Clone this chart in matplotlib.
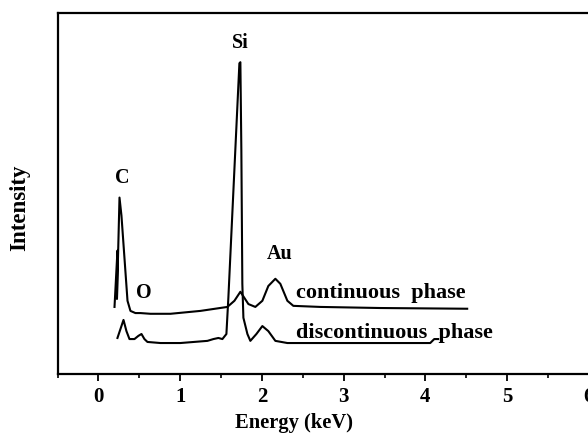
import matplotlib.pyplot as plt
from matplotlib.ticker import MultipleLocator

plt.rcParams['font.family'] = ['Liberation Serif', 'DejaVu Serif']
plt.rcParams['font.weight'] = 'bold'

# continuous phase spectrum (energy keV, intensity a.u.)
cont_energy = [0.196, 0.232, 0.226, 0.257, 0.281, 0.355, 0.391, 0.452, 0.513, 0.636,
               0.880, 1.247, 1.577, 1.663, 1.736, 1.785, 1.834, 1.919, 2.005, 2.078,
               2.164, 2.225, 2.311, 2.384, 2.714, 3.447, 4.511]
cont_intensity = [18.6, 34.2, 20.8, 48.9, 43.9, 20.3, 17.5, 16.9, 16.9, 16.7,
                  16.7, 17.5, 18.6, 20.3, 22.8, 21.1, 19.4, 18.6, 20.3, 24.4,
                  26.4, 25.0, 20.3, 18.9, 18.6, 18.3, 18.1]

# discontinuous phase spectrum
disc_energy = [0.232, 0.269, 0.306, 0.342, 0.379, 0.440, 0.489, 0.526, 0.562, 0.599,
               0.758, 1.002, 1.333, 1.406, 1.467, 1.516, 1.565, 1.589, 1.724, 1.736,
               1.748, 1.760, 1.773, 1.822, 1.858, 1.932, 2.005, 2.078, 2.164, 2.311,
               3.081, 4.059, 4.108, 4.156]
disc_intensity = [10.0, 12.5, 15.0, 11.9, 9.7, 9.7, 10.6, 11.1, 9.7, 8.9,
                  8.6, 8.6, 9.2, 9.7, 10.0, 9.7, 11.1, 21.1, 86.1, 86.4,
                  61.9, 25.0, 15.6, 11.1, 9.2, 11.1, 13.3, 11.9, 9.2, 8.6,
                  8.6, 8.6, 9.7, 9.7]

# element labels
elements = ['C', 'O', 'Si', 'Au']
element_x = [0.293, 0.55, 1.736, 2.213]
element_y = [54.2, 22.5, 91.7, 33.3]

fig = plt.figure(figsize=(5.88, 4.37), dpi=100)
ax = fig.add_axes([0.098, 0.144, 0.973, 0.826])

ax.plot(cont_energy, cont_intensity, color='black', linewidth=1.5)
ax.plot(disc_energy, disc_intensity, color='black', linewidth=1.5)

for name, x, y in zip(elements, element_x, element_y):
    ax.text(x, y, name, ha='center', va='center', fontsize=14.5, fontweight='bold')

ax.text(2.42, 22.4, 'continuous  phase', ha='left', va='center', fontsize=16, fontweight='bold')
ax.text(2.42, 11.3, 'discontinuous  phase', ha='left', va='center', fontsize=16, fontweight='bold')

ax.set_xlim(-0.5, 6.5)
ax.set_ylim(0, 100)
ax.xaxis.set_major_locator(MultipleLocator(1))
ax.xaxis.set_minor_locator(MultipleLocator(0.5))
ax.tick_params(axis='x', which='major', direction='out', length=5, width=1.3,
               labelsize=15, pad=4)
ax.tick_params(axis='x', which='minor', direction='out', length=3, width=1.2)
ax.set_yticks([])
for lab in ax.get_xticklabels():
    lab.set_fontweight('bold')
for sp in ax.spines.values():
    sp.set_linewidth(1.6)

fig.text(0.50, 0.031, 'Energy (keV)', ha='center', va='center', fontsize=14.8, fontweight='bold')
fig.text(0.034, 0.525, 'Intensity', ha='center', va='center', rotation=90,
         fontsize=16.5, fontweight='bold')

plt.savefig('out.png', dpi=100)
